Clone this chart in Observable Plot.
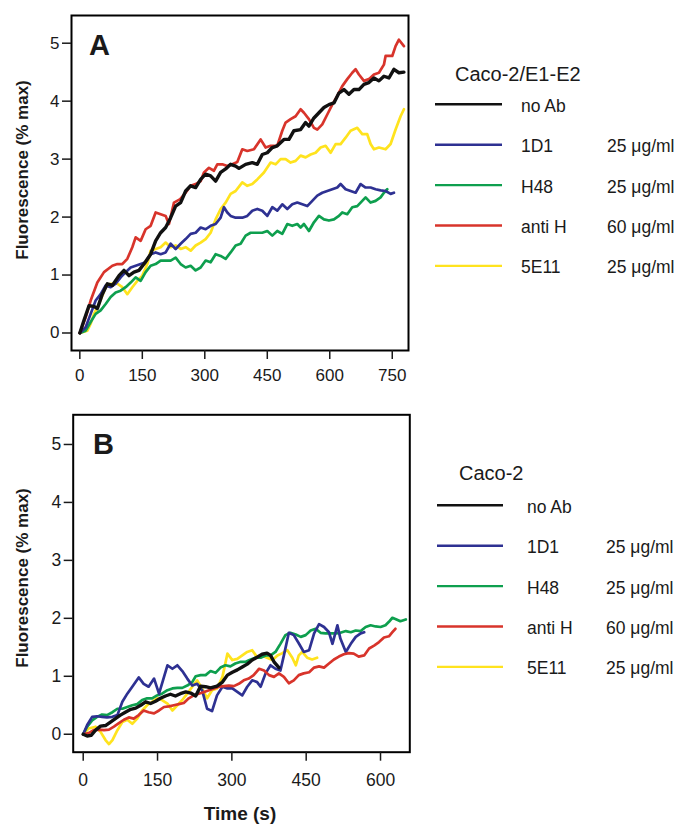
<!DOCTYPE html>
<html><head><meta charset="utf-8">
<script src="https://cdn.jsdelivr.net/npm/d3@7"></script>
<script src="https://cdn.jsdelivr.net/npm/@observablehq/plot@0.6"></script>
<style>
body{margin:0;background:#fff;}
#root{position:relative;width:681px;height:824px;overflow:hidden;font-family:"Liberation Sans",Arial,Helvetica,sans-serif;}
</style></head><body><div id="root"></div>
<script>
// ---------- data ----------
const seriesNames = ["no Ab", "1D1", "H48", "anti H", "5E11"];
const concentrations = ["", "25 \u03bcg/ml", "25 \u03bcg/ml", "60 \u03bcg/ml", "25 \u03bcg/ml"];
const seriesColors = ["#111111", "#2e3192", "#0e9f4e", "#d8342b", "#ffe31e"];
const legendTitles = ["Caco-2/E1-E2", "Caco-2"];
const panelLetters = ["A", "B"];
const ticksXA = [0, 150, 300, 450, 600, 750];
const ticksXB = [0, 150, 300, 450, 600];
const ticksY = [0, 1, 2, 3, 4, 5];
const yLabel = "Fluorescence (% max)";
const xLabel = "Time (s)";

// Panel A  [time (s), fluorescence (% max)]
const A_noAb = [[0,0],[10,.22],[22,.47],[34,.46],[42,.42],[54,.67],[66,.85],[78,.82],[94,.99],[106,1.08],[118,.99],[130,1.05],[142,1.08],[154,1.19],[170,1.36],[182,1.59],[194,1.73],[206,1.82],[218,1.99],[230,2.19],[242,2.25],[254,2.45],[266,2.54],[278,2.51],[290,2.65],[302,2.74],[314,2.71],[326,2.62],[338,2.77],[350,2.83],[362,2.91],[374,2.88],[382,2.84],[398,2.91],[414,2.94],[426,2.91],[438,3.08],[450,3.11],[462,3.2],[474,3.23],[490,3.34],[502,3.34],[514,3.49],[530,3.51],[542,3.63],[550,3.57],[562,3.71],[574,3.8],[586,3.89],[598,3.94],[610,3.97],[622,4.14],[634,4.2],[646,4.12],[658,4.2],[670,4.2],[682,4.29],[694,4.32],[706,4.4],[718,4.35],[730,4.43],[742,4.4],[754,4.55],[766,4.49],[778,4.5]];
const A_1D1 = [[0,0],[14,.1],[26,.33],[38,.56],[50,.67],[62,.82],[74,.79],[86,.85],[98,.96],[110,1.05],[122,1.13],[134,1.16],[146,1.19],[158,1.22],[170,1.36],[182,1.39],[194,1.36],[206,1.39],[218,1.54],[230,1.45],[242,1.54],[254,1.62],[266,1.71],[278,1.73],[290,1.82],[302,1.79],[314,1.85],[326,1.88],[338,1.99],[346,2.17],[354,2.08],[362,2.02],[374,1.99],[390,1.99],[402,2.02],[414,2.11],[426,2.14],[438,2.11],[450,2.02],[462,2.17],[474,2.11],[486,2.22],[498,2.14],[510,2.22],[522,2.25],[534,2.22],[546,2.19],[558,2.28],[570,2.37],[582,2.42],[594,2.45],[606,2.48],[618,2.51],[626,2.57],[638,2.48],[650,2.45],[662,2.42],[674,2.57],[686,2.51],[698,2.51],[710,2.48],[722,2.46],[734,2.45],[746,2.4],[754,2.42]];
const A_H48 = [[0,0],[14,.04],[26,.19],[38,.33],[50,.39],[62,.5],[74,.62],[86,.7],[98,.73],[110,.79],[122,.87],[134,.96],[146,.9],[158,1.05],[170,1.16],[182,1.19],[194,1.25],[206,1.25],[218,1.25],[230,1.3],[242,1.19],[254,1.13],[266,1.16],[278,1.08],[290,1.13],[302,1.25],[314,1.22],[326,1.36],[338,1.33],[350,1.28],[362,1.39],[374,1.51],[386,1.54],[398,1.68],[410,1.73],[426,1.73],[438,1.73],[450,1.76],[462,1.68],[474,1.76],[486,1.71],[498,1.88],[510,1.85],[522,1.88],[530,1.82],[538,1.88],[550,1.76],[562,1.91],[574,2.02],[586,1.96],[598,1.94],[610,1.96],[622,2.02],[630,2.08],[642,2.05],[654,2.17],[666,2.19],[678,2.28],[686,2.34],[698,2.25],[710,2.28],[722,2.34],[730,2.42],[738,2.48]];
const A_antiH = [[0,0],[14,.27],[26,.56],[42,.87],[58,1.05],[78,1.16],[90,1.19],[102,1.19],[114,1.28],[126,1.48],[134,1.65],[146,1.59],[158,1.79],[170,1.85],[182,2.08],[194,2.05],[206,2.02],[214,1.88],[226,2.25],[241,2.31],[254,2.42],[266,2.54],[278,2.57],[290,2.62],[298,2.77],[310,2.85],[322,2.8],[330,2.91],[342,2.91],[354,2.88],[362,2.9],[378,2.95],[390,3.17],[402,3.14],[418,3.17],[434,3.34],[446,3.2],[458,3.23],[474,3.23],[486,3.49],[494,3.63],[506,3.69],[518,3.74],[530,3.86],[538,3.8],[550,3.69],[562,3.54],[570,3.51],[582,3.6],[594,3.77],[606,3.94],[618,4.09],[630,4.26],[642,4.38],[654,4.49],[662,4.55],[670,4.46],[682,4.35],[694,4.38],[706,4.46],[718,4.49],[730,4.63],[734,4.78],[750,4.78],[758,4.95],[766,5.06],[778,4.95]];
const A_5E11 = [[0,0],[18,.04],[26,.16],[34,.33],[46,.5],[62,.79],[74,.85],[90,.85],[102,.79],[114,.67],[126,.79],[138,.9],[150,.99],[162,1.19],[170,1.42],[182,1.45],[194,1.48],[206,1.56],[218,1.48],[230,1.51],[242,1.45],[254,1.48],[266,1.42],[278,1.51],[290,1.56],[302,1.62],[314,1.73],[326,1.96],[338,2.14],[350,2.25],[362,2.4],[374,2.45],[390,2.6],[402,2.54],[414,2.57],[426,2.65],[442,2.77],[458,2.94],[470,2.91],[482,3.0],[494,3.0],[506,2.94],[518,2.97],[530,3.06],[542,3.03],[554,3.08],[566,3.11],[578,3.2],[590,3.23],[602,3.11],[614,3.26],[626,3.26],[638,3.37],[650,3.49],[666,3.54],[678,3.43],[690,3.43],[698,3.26],[706,3.17],[718,3.2],[734,3.17],[746,3.26],[758,3.51],[770,3.74],[778,3.86]];

// Panel B
const B_noAb = [[0,0],[8,-.03],[16,-.02],[25,.07],[35,.14],[45,.15],[55,.21],[65,.27],[75,.33],[85,.38],[96,.43],[106,.45],[116,.5],[126,.56],[136,.53],[146,.57],[156,.62],[166,.66],[176,.69],[186,.66],[196,.7],[207,.73],[217,.71],[227,.66],[237,.83],[247,.82],[257,.8],[270,.83],[281,.9],[291,1.02],[301,1.07],[311,1.11],[321,1.16],[331,1.21],[341,1.28],[351,1.33],[361,1.38],[371,1.4],[378,1.36],[385,1.25],[395,1.15]];
const B_1D1 = [[0,0],[8,.16],[18,.3],[28,.31],[38,.3],[48,.29],[59,.3],[69,.33],[79,.56],[89,.7],[99,.82],[112,.98],[122,.87],[132,.82],[143,.96],[153,.7],[161,.93],[170,1.19],[180,1.13],[190,1.19],[200,1.09],[210,.96],[220,.84],[230,.87],[240,.76],[250,.44],[260,.4],[270,.67],[281,.82],[291,.79],[301,.79],[311,.73],[321,.67],[331,.82],[341,.93],[351,.9],[358,.82],[368,1.05],[378,1.19],[388,1.13],[398,1.1],[405,1.36],[415,1.75],[425,1.71],[435,1.57],[445,1.42],[456,1.45],[466,1.74],[476,1.9],[486,1.85],[496,1.76],[503,1.56],[513,1.88],[519,1.65],[530,1.42],[540,1.56],[550,1.68],[560,1.74],[567,1.76]];
const B_H48 = [[0,0],[8,.13],[18,.24],[28,.3],[38,.34],[48,.33],[59,.38],[69,.44],[79,.44],[89,.47],[99,.5],[109,.52],[119,.59],[129,.62],[139,.62],[149,.67],[159,.7],[170,.76],[180,.79],[190,.8],[200,.8],[210,.84],[220,.9],[227,1.0],[237,1.02],[247,1.02],[257,1.09],[267,1.06],[277,1.15],[287,1.19],[297,1.17],[307,1.22],[318,1.25],[328,1.25],[338,1.29],[348,1.32],[358,1.32],[368,1.36],[378,1.36],[388,1.42],[398,1.56],[408,1.71],[418,1.75],[429,1.72],[439,1.68],[449,1.71],[459,1.79],[469,1.82],[479,1.75],[489,1.74],[499,1.74],[509,1.74],[519,1.75],[530,1.78],[540,1.76],[550,1.79],[560,1.78],[570,1.85],[580,1.88],[590,1.86],[600,1.85],[610,1.88],[617,1.94],[624,2.01],[630,1.99],[640,1.95],[651,1.98]];
const B_antiH = [[0,0],[11,.02],[21,.07],[32,.08],[42,.07],[52,.08],[62,.13],[72,.19],[82,.25],[92,.29],[102,.27],[112,.33],[122,.41],[132,.38],[143,.36],[153,.41],[163,.47],[173,.48],[183,.5],[193,.52],[203,.54],[213,.62],[223,.67],[233,.7],[244,.73],[254,.76],[264,.79],[274,.82],[284,.83],[294,.84],[304,.83],[314,.87],[324,.93],[334,.96],[344,1.02],[355,1.13],[365,1.1],[375,1.02],[385,.99],[395,1.05],[405,.99],[415,.88],[425,.93],[435,1.02],[445,1.05],[456,1.07],[466,1.15],[476,1.17],[486,1.15],[496,1.22],[506,1.29],[516,1.34],[526,1.38],[536,1.4],[546,1.39],[556,1.34],[567,1.36],[577,1.48],[587,1.53],[597,1.59],[607,1.67],[617,1.69],[624,1.76],[630,1.82]];
const B_5E11 = [[0,0],[11,.1],[25,.13],[35,.04],[45,-.1],[52,-.17],[59,-.1],[69,.07],[79,.21],[89,.25],[99,.18],[109,.27],[119,.41],[129,.5],[139,.56],[149,.62],[159,.59],[170,.53],[180,.41],[190,.5],[200,.59],[210,.7],[220,.82],[230,.93],[240,.79],[250,.62],[260,.76],[270,.79],[281,.99],[291,1.39],[301,1.28],[311,1.3],[321,1.36],[331,1.42],[341,1.45],[351,1.33],[361,1.36],[371,1.32],[382,1.28],[392,1.36],[402,1.4],[412,1.45],[422,1.32],[429,1.19],[435,1.36],[442,1.42],[452,1.32],[462,1.29],[472,1.32]];

const panelA = [A_noAb, A_1D1, A_H48, A_antiH, A_5E11];
const panelB = [B_noAb, B_1D1, B_H48, B_antiH, B_5E11];

// ---------- drawing ----------
const FONT = '"Liberation Sans", Arial, Helvetica, sans-serif';
const root = document.getElementById("root");
const drawOrder = [4, 2, 1, 3, 0];

function panel(series, opts) {
  const marks = [];
  for (const i of drawOrder) {
    marks.push(Plot.line(series[i], {
      x: d => d[0], y: d => d[1],
      stroke: seriesColors[i], strokeWidth: i === 0 ? 3.4 : 2.7,
      strokeLinejoin: "round", strokeLinecap: "round"
    }));
  }
  marks.push(Plot.frame({stroke: "#000", strokeWidth: 2}));
  marks.push(Plot.axisX({ticks: opts.xTicks, tickSize: 9, tickPadding: opts.xPad, strokeWidth: 1.5, fontSize: opts.fs, label: null, tickFormat: d => String(d)}));
  marks.push(Plot.axisY({ticks: ticksY, tickSize: 9, tickPadding: 3, strokeWidth: 1.5, fontSize: opts.fs, label: null, tickFormat: d => String(d)}));
  const svg = Plot.plot({
    width: 681, height: opts.height,
    marginTop: opts.mt, marginBottom: opts.mb, marginLeft: opts.ml, marginRight: opts.mr,
    x: {domain: opts.xDomain}, y: {domain: opts.yDomain},
    style: {fontFamily: FONT, color: "#1a1a1a", background: "transparent", overflow: "visible"},
    marks
  });
  svg.style.position = "absolute";
  svg.style.left = "0px";
  svg.style.top = opts.top + "px";
  root.appendChild(svg);
}

panel(panelA, {top: 0, height: 395, mt: 15, mb: 45, ml: 71, mr: 273,
  xDomain: [-20, 789], yDomain: [-0.302, 5.478], xTicks: ticksXA, fs: 17, xPad: 9});
panel(panelB, {top: 395, height: 429, mt: 19.3, mb: 72.3, ml: 72.7, mr: 271.7,
  xDomain: [-20.2, 659.1], yDomain: [-0.31, 5.512], xTicks: ticksXB, fs: 17.5, xPad: 12});

// overlay: panel letters, axis titles, legends
const ov = d3.select(root).append("svg")
  .attr("width", 681).attr("height", 824)
  .style("position", "absolute").style("left", "0px").style("top", "0px")
  .style("font-family", FONT);

const letterPos = [[89, 54.5], [93, 454]];
panelLetters.forEach((L, k) => {
  ov.append("text").attr("x", letterPos[k][0]).attr("y", letterPos[k][1])
    .attr("font-size", 29).attr("font-weight", "bold").attr("fill", "#1a1a1a").text(L);
});

[170, 578].forEach(cy => {
  ov.append("text").attr("transform", `translate(28,${cy}) rotate(-90)`)
    .attr("text-anchor", "middle").attr("font-size", 17).attr("font-weight", "bold")
    .attr("fill", "#1a1a1a").text(yLabel);
});
ov.append("text").attr("x", 240).attr("y", 820).attr("text-anchor", "middle")
  .attr("font-size", 19).attr("font-weight", "bold").attr("fill", "#1a1a1a").text(xLabel);

const legends = [
  {title: legendTitles[0], tx: 455, ty: 81, x1: 435, x2: 502, y0: 104.3, lx: 521, cx: 607},
  {title: legendTitles[1], tx: 459, ty: 480, x1: 437, x2: 503, y0: 505.3, lx: 527, cx: 606}
];
const step = 40.4;
legends.forEach(L => {
  ov.append("text").attr("x", L.tx).attr("y", L.ty).attr("font-size", 20).attr("fill", "#1a1a1a").text(L.title);
  seriesNames.forEach((name, i) => {
    const y = L.y0 + i * step;
    ov.append("line").attr("x1", L.x1).attr("x2", L.x2).attr("y1", y).attr("y2", y)
      .attr("stroke", seriesColors[i]).attr("stroke-width", 2.4);
    ov.append("text").attr("x", L.lx).attr("y", y + 7.5).attr("font-size", 17.5).attr("fill", "#1a1a1a").text(name);
    if (concentrations[i]) {
      ov.append("text").attr("x", L.cx).attr("y", y + 7.5).attr("font-size", 17.5).attr("fill", "#1a1a1a").text(concentrations[i]);
    }
  });
});
</script>
</body></html>
